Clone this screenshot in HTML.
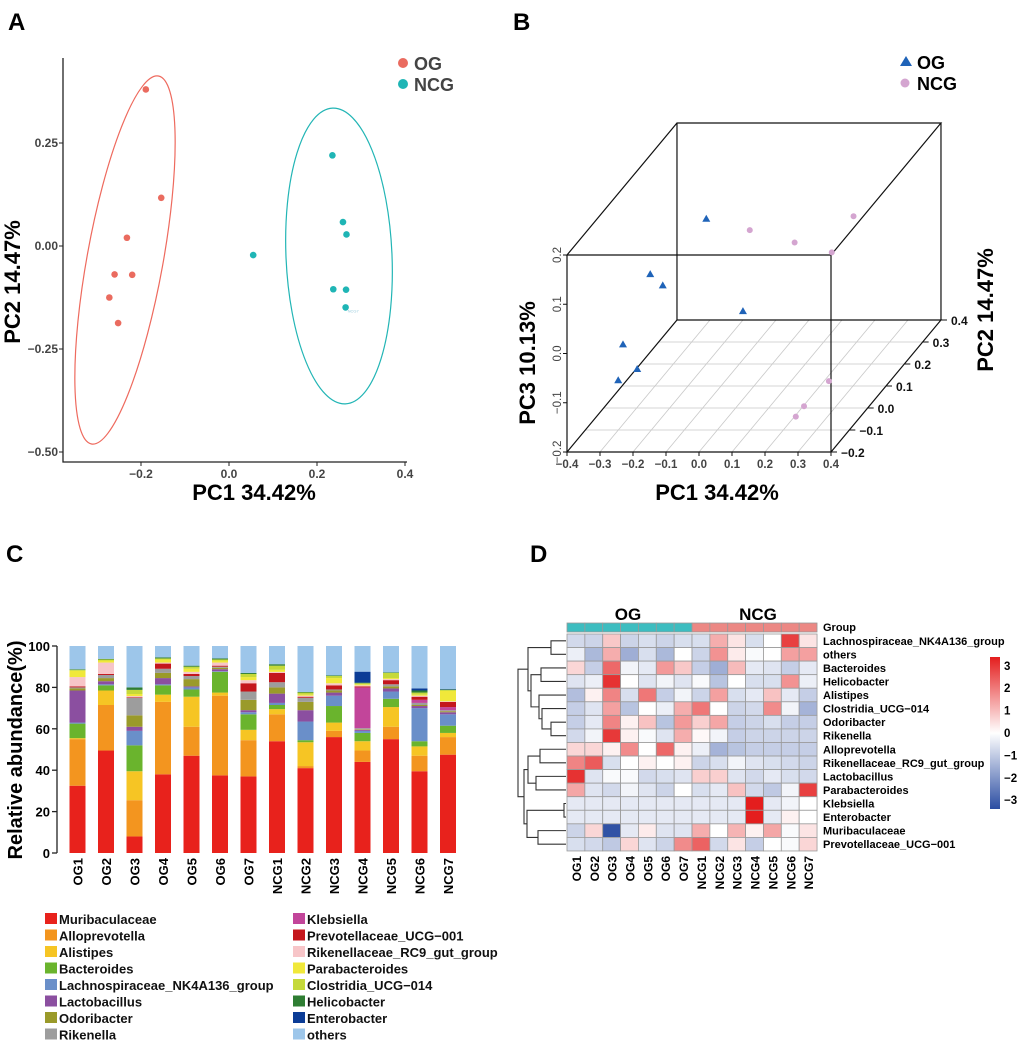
<!DOCTYPE html>
<html><head><meta charset="utf-8"><style>
body{margin:0;background:#fff}
svg{display:block;font-family:"Liberation Sans",Arial,sans-serif}
</style></head><body>
<svg id="fig" width="1020" height="1044" viewBox="0 0 1020 1044">
<g id="pA"></g>
<g id="pB"></g>
<g id="pC"></g>
<g id="pD"></g>
</svg>
<script>
// ---- shared PCA data ----
const ogPC1=[-0.189,-0.154,-0.232,-0.260,-0.220,-0.272,-0.252];
const ogPC2=[0.380,0.117,0.020,-0.069,-0.070,-0.125,-0.187];
const ogPC3=[-0.173,0.132,0.040,-0.090,0.103,-0.015,-0.060];
const ncgPC1=[0.235,0.259,0.267,0.055,0.237,0.266,0.265];
const ncgPC2=[0.220,0.058,0.028,-0.022,-0.105,-0.106,-0.149];
const ncgPC3=[0.091,0.090,-0.158,0.171,0.183,-0.149,-0.151];
const aXTicks=[-0.2,0.0,0.2,0.4];
const aYTicks=[0.25,0.00,-0.25,-0.50];
const bXTicks=[-0.4,-0.3,-0.2,-0.1,0.0,0.1,0.2,0.3,0.4];
const bDTicks=[-0.2,-0.1,0.0,0.1,0.2,0.3,0.4];
const bZTicks=[-0.2,-0.1,0.0,0.1,0.2];
// ---- panel C data ----
const samples=['OG1','OG2','OG3','OG4','OG5','OG6','OG7','NCG1','NCG2','NCG3','NCG4','NCG5','NCG6','NCG7'];
const taxa=['Muribaculaceae','Alloprevotella','Alistipes','Bacteroides','Lachnospiraceae_NK4A136_group','Lactobacillus','Odoribacter','Rikenella','Klebsiella','Prevotellaceae_UCG\u2212001','Rikenellaceae_RC9_gut_group','Parabacteroides','Clostridia_UCG\u2212014','Helicobacter','Enterobacter','others'];
const taxaColors=['#e8221c','#f3951f','#f6c524','#6ab42d','#6a8fc9','#8b4fa0','#9a9a2a','#9d9d9d','#c2459a','#c4161c','#f7c5c8','#f0e83a','#c5d93a','#2e7d32','#0b3c96','#9dc6ea'];
const abund=[
[32.5,22.5,0.5,7,0.5,15.5,1,0.5,0,0.5,4.5,3,0.5,0.3,0,11.2],
[49.5,22,7,2.5,0.5,1.5,1.5,1.5,0,0.5,5.5,1,0.5,0.3,0,6.2],
[8,17.5,14,12.5,7,2,5.5,8.5,0,0.3,0.5,1,2,1.2,0,20],
[38,35,3.5,4.5,0.5,3,2.5,2,0,2.5,0.5,1.5,0.5,0.5,0,5.5],
[47,14,14.5,3.5,1,0.5,3.5,1.5,0,1,1,1.5,1,0.5,0,9.5],
[37.5,38.5,1.5,10,0.3,1,0.7,0.5,0,0.5,1.5,1,0.5,0.5,0,6],
[37,17.5,5,7.5,1,1,5,4,0,4,1.5,1.5,1.5,0.5,0,13],
[54,13,2.5,2,1,4.5,3,2.5,0,4.5,0.5,1,2,0.7,0,8.8],
[41,1,11.5,1,9,5.5,4,2,0,0.5,0.5,0.5,1,0.3,0,22.2],
[56,3,4,8,5,1.5,1,0.5,0,2,1,2.5,1,0.3,0,14.2],
[44,5.5,4.5,4,1,0.5,0.3,0.5,19.7,0.5,0.5,0.5,0.5,0.3,5.3,12.4],
[55,6,9.5,4,3.5,1.5,1,1,0,2,0.5,0.5,2.5,0.3,0,12.7],
[39.5,7.5,4.5,2.5,16,1,0.5,1,1.5,1.5,0.5,0.5,1,1,1,20.5],
[47.5,8.5,2,3.5,5.5,1,0.5,0.5,1.5,2.5,0.3,5,0.5,0.2,0.2,20.8]];
const cYTicks=[0,20,40,60,80,100];
// ---- panel D data ----
const hmRows=['Lachnospiraceae_NK4A136_group','others','Bacteroides','Helicobacter','Alistipes','Clostridia_UCG\u2212014','Odoribacter','Rikenella','Alloprevotella','Rikenellaceae_RC9_gut_group','Lactobacillus','Parabacteroides','Klebsiella','Enterobacter','Muribaculaceae','Prevotellaceae_UCG\u2212001'];
const hmVals=[
[-0.7,-0.8,0.8,-0.8,-0.6,-0.8,-0.6,-0.6,1.2,0.4,-0.6,0,2.8,0.4],
[-0.3,-1.3,1.2,-1.5,-0.6,-1.3,0,-0.8,1.6,0.3,-0.1,0,1.4,1.4],
[0.6,-0.9,2.2,-0.2,-0.4,1.5,0.8,-0.9,-1.5,1,-0.4,-0.5,-0.9,-0.4],
[-0.5,-0.3,3,0,-0.5,-0.2,-0.5,-0.1,-1.1,0,-0.6,-0.6,1.6,-0.3],
[-1.2,0.2,1.8,-0.6,2,-0.9,-0.2,-0.8,1.4,-0.6,-0.4,0.9,-0.4,-0.9],
[-0.9,-0.5,1.4,-1.1,0,-0.3,1.2,2,0,-0.8,-0.7,1.7,-0.2,-1.4],
[-0.9,-0.4,1.8,0.2,0.9,-1.1,1.5,0.7,1.3,-0.9,-0.8,-0.6,-0.9,-0.9],
[-0.7,-0.2,2.9,0.2,-0.1,-0.5,1.2,0.1,-0.2,-0.9,-0.8,-0.8,-0.8,-0.8],
[0.6,0.6,0.2,1.7,0,2.2,0.2,-0.3,-1.4,-1.1,-0.9,-0.9,-0.9,-0.9],
[1.8,2.4,-0.6,0,0.2,0,0.2,-0.8,-0.6,-0.2,-0.5,-0.6,-0.7,-0.8],
[3,-0.5,-0.1,-0.1,-0.7,-0.6,-0.5,0.7,0.7,-0.5,-0.7,-0.4,-0.6,-0.7],
[1.3,-0.5,-0.7,-0.2,-0.5,-0.8,0,-0.6,-0.4,0.9,-0.7,-1,-0.2,2.8],
[-0.4,-0.4,-0.4,-0.4,-0.4,-0.4,-0.4,-0.4,-0.4,-0.4,3.3,-0.4,-0.2,0],
[-0.4,-0.4,-0.4,-0.4,-0.4,-0.4,-0.4,-0.4,-0.4,-0.4,3.3,-0.4,0.2,0],
[-0.8,0.6,-3.2,-0.4,0.3,-0.5,-0.5,1.2,0,1.1,0.2,1.3,-0.1,0.4],
[-0.6,-0.7,-1,0.6,-0.5,-0.8,1.7,2.3,-0.7,0.4,-0.9,0,-0.1,0.6]];
const hmGroups=['OG','OG','OG','OG','OG','OG','OG','NCG','NCG','NCG','NCG','NCG','NCG','NCG'];
const cbTicks=[3,2,1,0,-1,-2,-3];
const dendroMerges=[[0,1,551],[2,3,541],[6,7,551],[5,18,542],[4,19,539],[17,20,531],[16,21,528],[8,9,540],[10,11,536],[23,24,528],[12,13,564],[14,15,538],[26,27,527],[25,28,524],[22,29,518]];

const NS='http://www.w3.org/2000/svg';
function mk(parent,tag,attrs,text){const e=document.createElementNS(NS,tag);for(const k in attrs)e.setAttribute(k,attrs[k]);if(text!==undefined)e.textContent=text;parent.appendChild(e);return e;}
const fmt=(v,d)=>{const s=Math.abs(v).toFixed(d);return (v<0?'\u2212':'')+s;};

// ===== Panel A =====
(function(){
const g=document.getElementById('pA');
const sx=v=>229+v*440, sy=v=>246-v*412;
let t=mk(g,'text',{x:8,y:30,'font-size':24,'font-weight':'bold'},'A');


let l=mk(g,'path',{d:'M63 58V462H407',fill:'none',stroke:'#222','stroke-width':1.3});


aXTicks.forEach(v=>{mk(g,'line',{x1:sx(v),x2:sx(v),y1:462,y2:466,stroke:'#222'});
 t=mk(g,'text',{x:sx(v),y:478,'text-anchor':'middle','font-size':12,'font-weight':'bold',fill:'#444'},fmt(v,1));
 
 });
aYTicks.forEach(v=>{mk(g,'line',{x1:59,x2:63,y1:sy(v),y2:sy(v),stroke:'#222'});
 t=mk(g,'text',{x:58,y:sy(v)+4,'text-anchor':'end','font-size':12,'font-weight':'bold',fill:'#444'},fmt(v,2));
 
 });
t=mk(g,'text',{x:254,y:500,'text-anchor':'middle','font-size':22,'font-weight':'bold'},'PC1 34.42%');


t=mk(g,'text',{x:0,y:0,transform:'translate(20,282) rotate(-90)','text-anchor':'middle','font-size':22,'font-weight':'bold'},'PC2 14.47%');


let e=mk(g,'ellipse',{cx:125,cy:260,rx:38,ry:187,transform:'rotate(10.3 125 260)',fill:'none',stroke:'#ee6a5e','stroke-width':1.2});


e=mk(g,'ellipse',{cx:339,cy:256,rx:53,ry:148,transform:'rotate(-2.5 339 256)',fill:'none',stroke:'#22b5b5','stroke-width':1.2});


ogPC1.forEach((v,i)=>{const c=mk(g,'circle',{cx:sx(v),cy:sy(ogPC2[i]),r:3.3,fill:'#ea6b5f'});
 
 });
ncgPC1.forEach((v,i)=>{const c=mk(g,'circle',{cx:sx(v),cy:sy(ncgPC2[i]),r:3.3,fill:'#1fb5b5'});
 
 });
mk(g,'text',{x:sx(ncgPC1[6])+2,y:sy(ncgPC2[6])+5,'font-size':4,fill:'#9cd'},'NCG7');
let c=mk(g,'circle',{cx:403,cy:63,r:5,fill:'#ea6b5f'});


t=mk(g,'text',{x:414,y:70,'font-size':18,'font-weight':'bold',fill:'#444'},'OG');


c=mk(g,'circle',{cx:403,cy:84,r:5,fill:'#1fb5b5'});


t=mk(g,'text',{x:414,y:91,'font-size':18,'font-weight':'bold',fill:'#444'},'NCG');


})();

// ===== Panel B =====
(function(){
const g=document.getElementById('pB');
const px=(a,b)=>567+(a+0.4)*330+(b+0.2)*183.3;
const py=(b,c)=>452-(b+0.2)*220-(c+0.2)*492.5;
let t=mk(g,'text',{x:513,y:30,'font-size':24,'font-weight':'bold'},'B');


const grid=mk(g,'g',{stroke:'#c8c8c8','stroke-width':0.8});


bXTicks.slice(1,-1).forEach(v=>mk(grid,'line',{x1:px(v,-0.2),y1:py(-0.2,-0.2),x2:px(v,0.4),y2:py(0.4,-0.2)}));
bDTicks.slice(1,-1).forEach(v=>mk(grid,'line',{x1:px(-0.4,v),y1:py(v,-0.2),x2:px(0.4,v),y2:py(v,-0.2)}));
const box=mk(g,'g',{stroke:'#111','stroke-width':1.2,fill:'none'});


const P=(a,b,c)=>[px(a,b),py(b,c)];
const corners=[[-0.4,-0.2],[0.4,-0.2],[0.4,0.4],[-0.4,0.4]];
[-0.2,0.2].forEach(c=>{const pts=corners.map(k=>P(k[0],k[1],c).join(',')).join(' ');mk(box,'polygon',{points:pts});});
corners.forEach(k=>{const a=P(k[0],k[1],-0.2),b=P(k[0],k[1],0.2);mk(box,'line',{x1:a[0],y1:a[1],x2:b[0],y2:b[1]});});
bXTicks.forEach(v=>{mk(g,'line',{x1:px(v,-0.2),x2:px(v,-0.2),y1:452,y2:456,stroke:'#111'});
 t=mk(g,'text',{x:px(v,-0.2),y:468,'text-anchor':'middle','font-size':11.5,'font-weight':'bold',fill:'#444'},fmt(v,1));
 
 });
bDTicks.forEach(v=>{const x=px(0.4,v),y=py(v,-0.2);mk(g,'line',{x1:x,y1:y,x2:x+6,y2:y,stroke:'#111'});
 t=mk(g,'text',{x:x+10,y:y+5,'font-size':12,'font-weight':'bold',fill:'#111'},fmt(v,1));
 
 });
bZTicks.forEach(v=>{const y=py(-0.2,v);mk(g,'line',{x1:563,x2:567,y1:y,y2:y,stroke:'#111'});
 t=mk(g,'text',{x:0,y:0,transform:`translate(561,${y}) rotate(-90)`,'text-anchor':'middle','font-size':11.5,'fill':'#444'},fmt(v,1));
 
 });
t=mk(g,'text',{x:717,y:500,'text-anchor':'middle','font-size':22,'font-weight':'bold'},'PC1 34.42%');


t=mk(g,'text',{x:0,y:0,transform:'translate(535,363) rotate(-90)','text-anchor':'middle','font-size':22,'font-weight':'bold'},'PC3 10.13%');


t=mk(g,'text',{x:0,y:0,transform:'translate(993,310) rotate(-90)','text-anchor':'middle','font-size':22,'font-weight':'bold'},'PC2 14.47%');


ogPC1.forEach((v,i)=>{const x=px(v,ogPC2[i]),y=py(ogPC2[i],ogPC3[i]);
 const m=mk(g,'polygon',{points:`${x},${y-4} ${x-4},${y+3} ${x+4},${y+3}`,fill:'#1f63b8'});
 
 });
ncgPC1.forEach((v,i)=>{const m=mk(g,'circle',{cx:px(v,ncgPC2[i]),cy:py(ncgPC2[i],ncgPC3[i]),r:3,fill:'#d4a5d0'});
 
 });
let m=mk(g,'polygon',{points:'906,56 900,66 912,66',fill:'#1f63b8'});


t=mk(g,'text',{x:917,y:69,'font-size':18,'font-weight':'bold'},'OG');


m=mk(g,'circle',{cx:905,cy:83,r:4.5,fill:'#d4a5d0'});


t=mk(g,'text',{x:917,y:90,'font-size':18,'font-weight':'bold'},'NCG');


})();

// ===== Panel C =====
(function(){
const g=document.getElementById('pC');
const sy=v=>853-v*2.07, cx=i=>77.5+i*28.5;
let t=mk(g,'text',{x:6,y:562,'font-size':24,'font-weight':'bold'},'C');


abund.forEach((row,i)=>{let acc=0;row.forEach((v,k)=>{if(v>0){
 const r=mk(g,'rect',{x:cx(i)-8,y:sy(acc+v),width:16,height:v*2.07,fill:taxaColors[k]});
 
 }acc+=v;});
 t=mk(g,'text',{x:0,y:0,transform:`translate(${cx(i)+5},858) rotate(-90)`,'text-anchor':'end','font-size':13,'font-weight':'bold'},samples[i]);
 
 });
let a=mk(g,'line',{x1:57,x2:57,y1:646,y2:853,stroke:'#222','stroke-width':1.3});


cYTicks.forEach(v=>{mk(g,'line',{x1:52,x2:57,y1:sy(v),y2:sy(v),stroke:'#222','stroke-width':1.3});
 t=mk(g,'text',{x:50,y:sy(v)+5,'text-anchor':'end','font-size':13,'font-weight':'bold'},String(v));
 
 });
t=mk(g,'text',{x:0,y:0,transform:'translate(22,750) rotate(-90)','text-anchor':'middle','font-size':20,'font-weight':'bold'},'Relative abundance(%)');


taxa.forEach((n,k)=>{const col=k<8?0:1,row=k%8;const x=col?293:45,y=913+row*16.5;
 const r=mk(g,'rect',{x:x,y:y,width:12,height:11,fill:taxaColors[k]});
 
 
 t=mk(g,'text',{x:x+14,y:y+11,'font-size':13,'font-weight':'bold',fill:'#111'},n);
 
 });
})();

// ===== Panel D =====
(function(){
const g=document.getElementById('pD');
const x0=567,cw=17.86,y0=634,rh=13.56;
const col=v=>{const f=Math.min(Math.abs(v)/3.3,1);const tgt=v>=0?[228,30,30]:[43,77,162];
 return 'rgb('+tgt.map(c=>Math.round(255+(c-255)*f)).join(',')+')';};
let t=mk(g,'text',{x:530,y:562,'font-size':24,'font-weight':'bold'},'D');


t=mk(g,'text',{x:628,y:620,'text-anchor':'middle','font-size':17,'font-weight':'bold'},'OG');


t=mk(g,'text',{x:758,y:620,'text-anchor':'middle','font-size':17,'font-weight':'bold'},'NCG');


hmGroups.forEach((gr,j)=>{const r=mk(g,'rect',{x:x0+j*cw,y:623,width:cw,height:9,fill:gr==='OG'?'#3dbdc0':'#ec8884',stroke:'#999','stroke-width':0.8});
 
 });
t=mk(g,'text',{x:823,y:631,'font-size':11,'font-weight':'bold'},'Group');


hmVals.forEach((row,i)=>{row.forEach((v,j)=>{
 const r=mk(g,'rect',{x:x0+j*cw,y:y0+i*rh,width:cw,height:rh,fill:col(v),stroke:'#9a9a9a','stroke-width':0.8});
 
 });
 t=mk(g,'text',{x:823,y:y0+i*rh+rh/2+4,'font-size':11,'font-weight':'bold'},hmRows[i]);
 
 });
samples.forEach((s,j)=>{t=mk(g,'text',{x:0,y:0,transform:`translate(${x0+j*cw+cw/2+5},856) rotate(-90)`,'text-anchor':'end','font-size':12,'font-weight':'bold'},s);
 
 });
const ny=[],nx=[];for(let i=0;i<16;i++){ny.push(y0+i*rh+rh/2);nx.push(566);}
const dg=mk(g,'g',{stroke:'#333','stroke-width':1.1,fill:'none'});


dendroMerges.forEach(m=>{const [a,b,x]=m;
 mk(dg,'path',{d:`M${nx[a]} ${ny[a]}H${x}V${ny[b]}H${nx[b]}`});
 nx.push(x);ny.push((ny[a]+ny[b])/2);});
const defs=mk(g,'defs',{});const lg=mk(defs,'linearGradient',{id:'cb',x1:0,y1:0,x2:0,y2:1});
[[0,'#e41e1e'],[0.5,'#ffffff'],[1,'#2b4da2']].forEach(s=>mk(lg,'stop',{offset:s[0],'stop-color':s[1]}));
let cb=mk(g,'rect',{x:990,y:657,width:10,height:152,fill:'url(#cb)'});


cbTicks.forEach(v=>{const y=733-v*22.4;
 t=mk(g,'text',{x:1004,y:y+4,'font-size':11.5,'font-weight':'bold'},fmt(v,0));
 
 });
})();
</script>
</body></html>
